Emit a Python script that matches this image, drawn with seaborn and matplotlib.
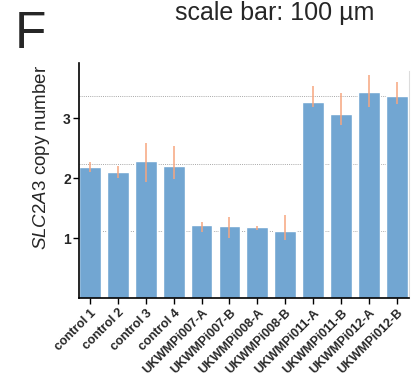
import numpy as np
import matplotlib
matplotlib.use("Agg")
import matplotlib.pyplot as plt
import seaborn as sns
import pandas as pd

# copy number per line (mean, with lower / upper ends of the error bar)
samples = ["control 1", "control 2", "control 3", "control 4",
           "UKWMPi007-A", "UKWMPi007-B", "UKWMPi008-A", "UKWMPi008-B",
           "UKWMPi011-A", "UKWMPi011-B", "UKWMPi012-A", "UKWMPi012-B"]
means = [2.19, 2.11, 2.28, 2.20, 1.22, 1.20, 1.19, 1.13, 3.26, 3.07, 3.43, 3.36]
err_low = [2.10, 2.00, 1.93, 1.99, 1.11, 1.01, 1.14, 0.98, 3.18, 2.88, 3.18, 3.24]
err_high = [2.27, 2.20, 2.58, 2.54, 1.27, 1.35, 1.21, 1.39, 3.53, 3.41, 3.71, 3.60]
ref_levels = [1.12, 2.24, 3.36]
yticks = [1, 2, 3]

bar_color = "#72a6d2"
err_color = "#f6a57f"

df = pd.DataFrame({"sample": samples, "copies": means})

sns.set_theme(style="white")
plt.rcParams["font.family"] = ["Liberation Sans", "DejaVu Sans"]
plt.rcParams["mathtext.fontset"] = "custom"
plt.rcParams["mathtext.it"] = "Liberation Sans:italic"
plt.rcParams["mathtext.rm"] = "Liberation Sans"

fig = plt.figure(figsize=(4.19, 3.80), dpi=100)
ax = fig.add_axes([0.1885, 0.2145, 0.7876, 0.6205])

# dotted reference lines behind the bars
for lvl in ref_levels:
    ax.axhline(lvl, color="#a8a8a8", linestyle=(0, (1, 1.2)), linewidth=0.7, zorder=0)

sns.barplot(data=df, x="sample", y="copies", color=bar_color, saturation=1,
            width=0.78, errorbar=None, ax=ax, zorder=2)

pos = np.arange(len(samples))
m = np.array(means)
yerr = [m - np.array(err_low), np.array(err_high) - m]
ax.errorbar(pos, m, yerr=yerr, fmt="none", ecolor=err_color, elinewidth=1.1,
            capsize=0, zorder=3)

ax.set_xlim(-0.39, 11.43)
ax.set_ylim(0, 3.92)
ax.set_yticks(yticks)
ax.set_yticklabels([str(t) for t in yticks], fontsize=10, fontweight="bold")
ax.set_xticks(pos)
ax.set_xticklabels(samples, rotation=45, ha="right", rotation_mode="anchor",
                   fontsize=9, fontweight="bold")
ax.tick_params(axis="both", direction="out", length=4, width=1, color="black",
               bottom=True, left=True, pad=2)
ax.set_xlabel("")
ax.set_ylabel(r"$\mathit{SLC2A3}$ copy number", fontsize=13.5)
ax.yaxis.set_label_coords(-0.082, 0.60)

for side in ["left", "bottom"]:
    ax.spines[side].set_color("black")
    ax.spines[side].set_linewidth(1.2)
ax.spines["top"].set_visible(False)
ax.spines["right"].set_color("#dcdcdc")
ax.spines["right"].set_linewidth(0.8)
ax.spines["right"].set_bounds(0, 3.78)

fig.text(0.035, 0.975, "F", fontsize=37, va="top", ha="left")
fig.text(0.655, 0.997, "scale bar: 100 µm", fontsize=18, va="top", ha="center")

fig.savefig("out.png", dpi=100)
